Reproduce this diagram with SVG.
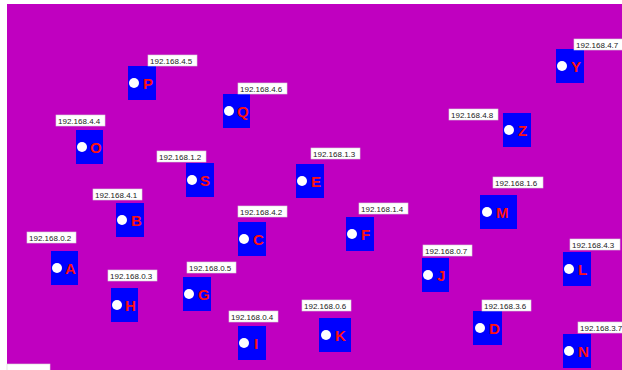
<svg xmlns="http://www.w3.org/2000/svg" width="622" height="370" viewBox="0 0 622 370">
<style>
.bg{fill:#c000c0}
.box{fill:#0000ff}
.dot{fill:#ffffff}
.let{font-family:"Liberation Sans",Arial,sans-serif;font-size:15px;font-weight:bold;fill:#ff1010}
.lb{fill:#ffffff;stroke:#d8d8d8;stroke-width:0.6}
.lt{font-family:"Liberation Sans",Arial,sans-serif;font-size:8px;fill:#222222}
</style>
<rect x="0" y="0" width="622" height="370" fill="#ffffff"/>
<rect class="bg" x="7" y="4" width="615" height="366"/>
<g id="connectors"></g>
<g id="P"><rect class="box" x="128" y="66" width="28" height="34"/><circle class="dot" cx="134" cy="83" r="5"/><text class="let" x="143" y="89">P</text><rect class="lb" x="148" y="55" width="49" height="11"/><text class="lt" x="150" y="63.5">192.168.4.5</text></g>
<g id="Q"><rect class="box" x="223" y="94" width="27" height="34"/><circle class="dot" cx="229" cy="111" r="5"/><text class="let" x="237" y="117">Q</text><rect class="lb" x="238" y="83" width="49" height="11"/><text class="lt" x="240" y="91.5">192.168.4.6</text></g>
<g id="Y"><rect class="box" x="556" y="49" width="28" height="34"/><circle class="dot" cx="562" cy="66" r="5"/><text class="let" x="571" y="72">Y</text><rect class="lb" x="574" y="39" width="49" height="11"/><text class="lt" x="576" y="47.5">192.168.4.7</text></g>
<g id="Z"><rect class="box" x="503" y="113" width="28" height="34"/><circle class="dot" cx="509" cy="130" r="5"/><text class="let" x="518" y="136">Z</text><rect class="lb" x="449" y="109" width="49" height="11"/><text class="lt" x="451" y="117.5">192.168.4.8</text></g>
<g id="O"><rect class="box" x="76" y="130" width="27" height="34"/><circle class="dot" cx="82" cy="147" r="5"/><text class="let" x="90" y="153">O</text><rect class="lb" x="56" y="115" width="49" height="11"/><text class="lt" x="58" y="123.5">192.168.4.4</text></g>
<g id="S"><rect class="box" x="186" y="163" width="28" height="34"/><circle class="dot" cx="192" cy="180" r="5"/><text class="let" x="200" y="186">S</text><rect class="lb" x="157" y="151" width="49" height="11"/><text class="lt" x="159" y="159.5">192.168.1.2</text></g>
<g id="E"><rect class="box" x="296" y="164" width="28" height="34"/><circle class="dot" cx="302" cy="181" r="5"/><text class="let" x="311" y="187">E</text><rect class="lb" x="311" y="148" width="49" height="11"/><text class="lt" x="313" y="156.5">192.168.1.3</text></g>
<g id="B"><rect class="box" x="116" y="203" width="28" height="34"/><circle class="dot" cx="122" cy="220" r="5"/><text class="let" x="131" y="226">B</text><rect class="lb" x="93" y="189" width="49" height="11"/><text class="lt" x="95" y="197.5">192.168.4.1</text></g>
<g id="C"><rect class="box" x="238" y="222" width="28" height="34"/><circle class="dot" cx="244" cy="239" r="5"/><text class="let" x="253" y="245">C</text><rect class="lb" x="238" y="206" width="49" height="11"/><text class="lt" x="240" y="214.5">192.168.4.2</text></g>
<g id="F"><rect class="box" x="346" y="217" width="28" height="34"/><circle class="dot" cx="352" cy="234" r="5"/><text class="let" x="361" y="240">F</text><rect class="lb" x="359" y="203" width="49" height="11"/><text class="lt" x="361" y="211.5">192.168.1.4</text></g>
<g id="M"><rect class="box" x="480" y="195" width="37" height="34"/><circle class="dot" cx="487" cy="212" r="5"/><text class="let" x="496" y="218">M</text><rect class="lb" x="493" y="177" width="50" height="11"/><text class="lt" x="495" y="185.5">192.168.1.6</text></g>
<g id="A"><rect class="box" x="51" y="251" width="27" height="34"/><circle class="dot" cx="57" cy="268" r="5"/><text class="let" x="65" y="274">A</text><rect class="lb" x="27" y="232" width="49" height="11"/><text class="lt" x="29" y="240.5">192.168.0.2</text></g>
<g id="L"><rect class="box" x="563" y="252" width="28" height="34"/><circle class="dot" cx="569" cy="269" r="5"/><text class="let" x="578" y="275">L</text><rect class="lb" x="570" y="239" width="50" height="11"/><text class="lt" x="572" y="247.5">192.168.4.3</text></g>
<g id="J"><rect class="box" x="422" y="258" width="27" height="34"/><circle class="dot" cx="428" cy="275" r="5"/><text class="let" x="437" y="281">J</text><rect class="lb" x="423" y="245" width="49" height="11"/><text class="lt" x="425" y="253.5">192.168.0.7</text></g>
<g id="H"><rect class="box" x="111" y="288" width="27" height="34"/><circle class="dot" cx="117" cy="305" r="5"/><text class="let" x="125" y="311">H</text><rect class="lb" x="108" y="270" width="49" height="11"/><text class="lt" x="110" y="278.5">192.168.0.3</text></g>
<g id="G"><rect class="box" x="183" y="277" width="28" height="34"/><circle class="dot" cx="189" cy="294" r="5"/><text class="let" x="198" y="300">G</text><rect class="lb" x="187" y="262" width="49" height="11"/><text class="lt" x="189" y="270.5">192.168.0.5</text></g>
<g id="I"><rect class="box" x="238" y="326" width="28" height="34"/><circle class="dot" cx="244" cy="343" r="5"/><text class="let" x="254" y="349">I</text><rect class="lb" x="229" y="311" width="49" height="11"/><text class="lt" x="231" y="319.5">192.168.0.4</text></g>
<g id="K"><rect class="box" x="319" y="318" width="32" height="34"/><circle class="dot" cx="326" cy="335" r="5"/><text class="let" x="335" y="341">K</text><rect class="lb" x="302" y="300" width="49" height="11"/><text class="lt" x="304" y="308.5">192.168.0.6</text></g>
<g id="D"><rect class="box" x="473" y="311" width="29" height="34"/><circle class="dot" cx="480" cy="328" r="5"/><text class="let" x="489" y="334">D</text><rect class="lb" x="482" y="300" width="49" height="11"/><text class="lt" x="484" y="308.5">192.168.3.6</text></g>
<g id="N"><rect class="box" x="563" y="334" width="28" height="34"/><circle class="dot" cx="569" cy="351" r="5"/><text class="let" x="578" y="357">N</text><rect class="lb" x="578" y="322" width="49" height="11"/><text class="lt" x="580" y="330.5">192.168.3.7</text></g>
<rect class="lb" x="7" y="364" width="43" height="10"/>
</svg>
